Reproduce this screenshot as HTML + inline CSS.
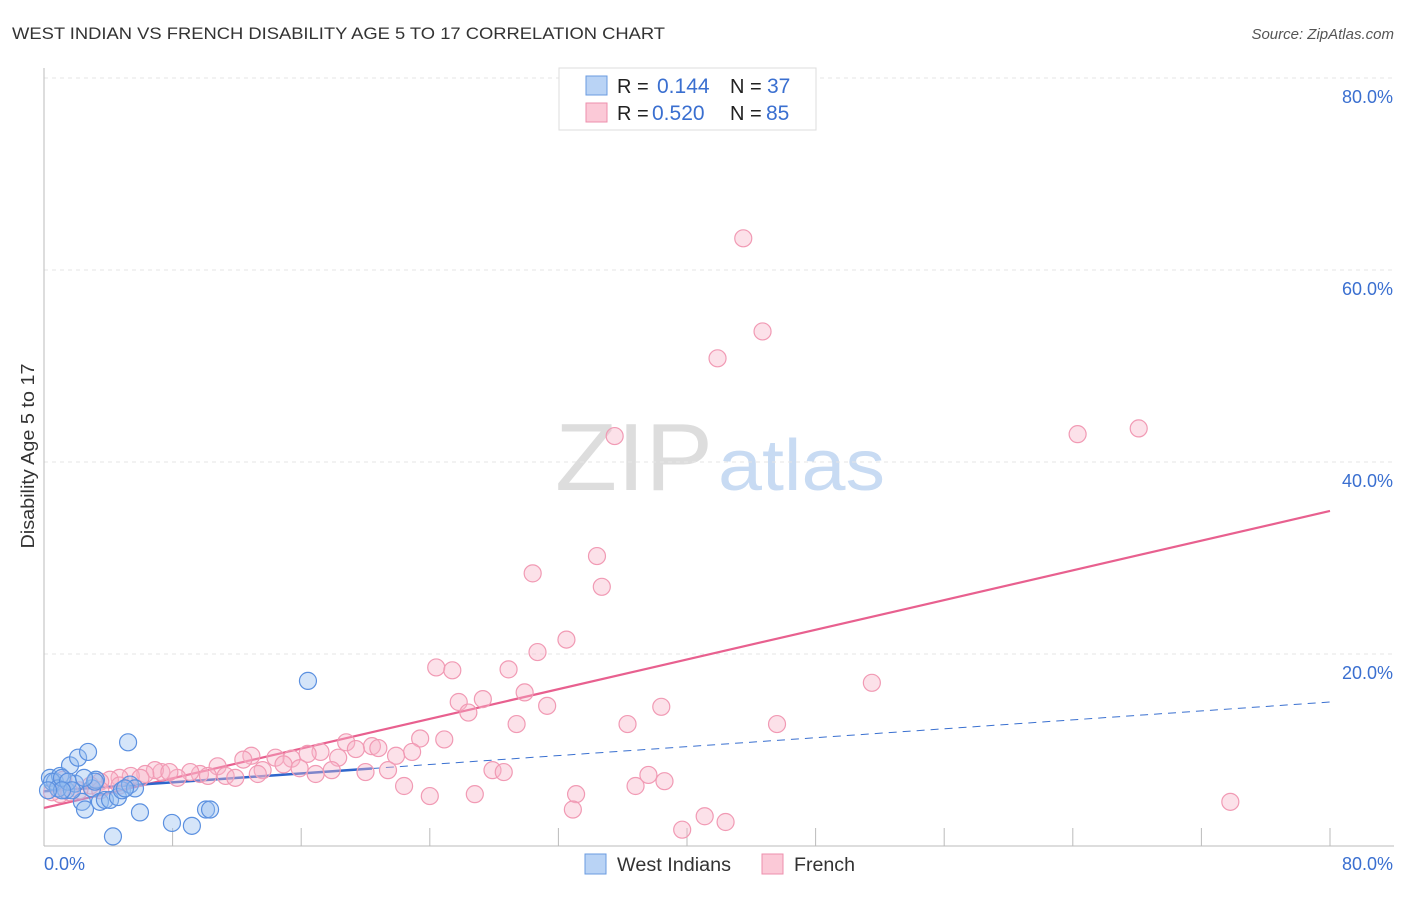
<!DOCTYPE html>
<html><head><meta charset="utf-8"><style>
body{margin:0;background:#fff;font-family:"Liberation Sans",sans-serif}
svg text{font-family:"Liberation Sans",sans-serif}
</style></head><body>
<svg id="chart" width="1406" height="892" xmlns="http://www.w3.org/2000/svg">
<text x="12" y="39" font-size="17" fill="#333" textLength="653" lengthAdjust="spacingAndGlyphs">WEST INDIAN VS FRENCH DISABILITY AGE 5 TO 17 CORRELATION CHART</text>
<text x="1394" y="39" font-size="15" fill="#555" font-style="italic" text-anchor="end">Source: ZipAtlas.com</text>
<g>
<text x="555" y="490" font-size="96" font-family="Liberation Serif" fill="#ddd" textLength="158" lengthAdjust="spacingAndGlyphs">ZIP</text>
<text x="718" y="490" font-size="72" fill="#c8dbf3" textLength="167" lengthAdjust="spacingAndGlyphs">atlas</text>
</g>
<g id="grid"></g>
<g id="axes"></g>
<text transform="translate(34,456) rotate(-90)" font-size="18" fill="#333" text-anchor="middle" textLength="185" lengthAdjust="spacingAndGlyphs">Disability Age 5 to 17</text>
<g id="trend"></g>
<g id="pts"></g>
<g>
<rect x="559" y="68" width="257" height="62" fill="#fff" stroke="#ddd"/>
<rect x="586" y="76" width="21" height="19" fill="#b9d3f5" stroke="#6a9be0"/>
<rect x="586" y="103" width="21" height="19" fill="#fbc9d7" stroke="#ee8fac"/>
<text x="617" y="93" font-size="20" fill="#222">R = </text><text x="657" y="93" font-size="21" fill="#3a6fd0">0.144</text>
<text x="730" y="93" font-size="20" fill="#222">N = </text><text x="767" y="93" font-size="21" fill="#3a6fd0">37</text>
<text x="617" y="120" font-size="20" fill="#222">R = </text><text x="652" y="120" font-size="21" fill="#3a6fd0">0.520</text>
<text x="730" y="120" font-size="20" fill="#222">N = </text><text x="766" y="120" font-size="21" fill="#3a6fd0">85</text>
</g>
<g>
<rect x="585" y="854" width="21" height="20" fill="#b9d3f5" stroke="#6a9be0"/>
<text x="617" y="871" font-size="19" fill="#333" textLength="114" lengthAdjust="spacingAndGlyphs">West Indians</text>
<rect x="762" y="854" width="21" height="20" fill="#fbc9d7" stroke="#ee8fac"/>
<text x="794" y="871" font-size="19" fill="#333" textLength="61" lengthAdjust="spacingAndGlyphs">French</text>
</g>
</svg>
<script>
const yTicks=[20,40,60,80];
const xTickLabels=["0.0%","80.0%"];
const blueX=[0.37,0.68,1.0,1.37,1.62,1.93,2.12,2.36,2.55,2.74,2.99,3.23,3.48,3.79,4.11,4.29,4.6,4.85,5.23,5.35,5.66,5.97,7.96,9.2,10.08,10.33,16.42,0.5,0.87,1.12,1.49,1.74,3.17,1.12,0.25,2.49,5.04];
const blueY=[7.1,6.7,7.3,5.8,8.4,6.5,9.2,4.6,3.8,9.8,6.0,6.9,4.6,4.8,4.8,1.0,5.1,5.8,10.8,6.4,6.0,3.5,2.4,2.1,3.8,3.8,17.2,6.7,6.0,7.1,6.7,5.8,6.7,5.8,5.8,7.1,6.0];
const pinkX=[43.5,44.7,41.9,35.5,64.3,68.1,34.4,30.4,34.7,32.5,30.7,24.4,25.4,28.9,51.5,29.9,25.8,27.3,26.4,31.3,29.4,36.3,38.4,45.6,23.4,24.9,18.8,20.4,19.4,20.8,17.2,18.3,22.9,21.9,16.4,15.4,14.4,12.9,12.4,13.6,14.9,15.9,16.9,17.9,20.0,21.4,10.8,9.7,9.1,8.3,7.3,6.9,6.3,5.4,4.7,4.1,3.5,2.9,2.2,1.6,1.0,0.5,1.2,3.5,6.0,7.8,10.2,11.3,11.9,13.3,27.9,28.6,22.4,24.0,26.8,33.1,32.9,36.8,37.6,38.6,41.1,42.4,39.7,73.8,4.7];
const pinkY=[63.3,53.6,50.8,42.7,42.9,43.5,30.2,28.4,27.0,21.5,20.2,18.6,18.3,18.4,17.0,16.0,15.0,15.3,13.9,14.6,12.7,12.7,14.5,12.7,11.2,11.1,10.8,10.4,10.1,10.2,9.8,9.2,9.8,9.4,9.6,9.1,9.2,9.4,9.0,7.9,8.5,8.1,7.5,7.9,7.7,7.9,8.3,7.5,7.7,7.1,7.7,7.9,7.5,7.3,7.1,6.9,6.7,6.3,5.8,5.6,5.4,5.6,6.9,5.8,7.1,7.7,7.3,7.3,7.1,7.5,7.9,7.7,6.25,5.2,5.4,5.4,3.8,6.25,7.4,6.75,3.1,2.5,1.7,4.6,6.3];
const blueTrend=[5.7,15.0]; const blueSolidEnd=20.4;
const pinkTrend=[3.96,34.9];
const NS="http://www.w3.org/2000/svg";
const X=v=>44+v*16.075, Y=v=>846-v*9.6;
function mk(tag,attrs,parent){const e=document.createElementNS(NS,tag);for(const k in attrs)e.setAttribute(k,attrs[k]);document.getElementById(parent).appendChild(e);return e;}
yTicks.forEach(t=>{
 const l=mk('line',{x1:44,x2:1394,y1:Y(t),y2:Y(t),stroke:'#e6e6e6','stroke-width':1,'stroke-dasharray':'4,4'},'grid');
 
 
 const tx=mk('text',{x:1393,y:Y(t)+25,'font-size':18,fill:'#3a6fd0','text-anchor':'end'},'grid');
 tx.textContent=t.toFixed(1)+'%';
 
 
});
mk('line',{x1:44,x2:44,y1:68,y2:846,stroke:'#bbb'},'axes');
mk('line',{x1:44,x2:1394,y1:846,y2:846,stroke:'#bbb'},'axes');
for(let i=1;i<=10;i++){const x=X(i*8);mk('line',{x1:x,x2:x,y1:828,y2:846,stroke:'#bbb'},'axes');}
const l0=mk('text',{x:44,y:870,'font-size':18,fill:'#3a6fd0'},'axes');l0.textContent=xTickLabels[0];


const l1=mk('text',{x:1393,y:870,'font-size':18,fill:'#3a6fd0','text-anchor':'end'},'axes');l1.textContent=xTickLabels[1];


pinkX.forEach((v,i)=>{const c=mk('circle',{cx:X(v),cy:Y(pinkY[i]),r:8.5,fill:'rgba(248,180,200,0.4)',stroke:'#f19ab4','stroke-width':1.2},'pts');
 
 });
blueX.forEach((v,i)=>{const c=mk('circle',{cx:X(v),cy:Y(blueY[i]),r:8.5,fill:'rgba(150,190,240,0.4)',stroke:'#5b90e0','stroke-width':1.2},'pts');
 
 });
const bAt=v=>blueTrend[0]+(blueTrend[1]-blueTrend[0])*v/80;
const pl=mk('line',{x1:X(0),y1:Y(pinkTrend[0]),x2:X(80),y2:Y(pinkTrend[1]),stroke:'#e8608f','stroke-width':2.2},'trend');


const bd=mk('line',{x1:X(blueSolidEnd),y1:Y(bAt(blueSolidEnd)),x2:X(80),y2:Y(bAt(80)),stroke:'#3a70d0','stroke-width':1,'stroke-dasharray':'8,6'},'trend');


const bs=mk('line',{x1:X(0),y1:Y(bAt(0)),x2:X(blueSolidEnd),y2:Y(bAt(blueSolidEnd)),stroke:'#2e66cc','stroke-width':2.5},'trend');


</script>
</body></html>
